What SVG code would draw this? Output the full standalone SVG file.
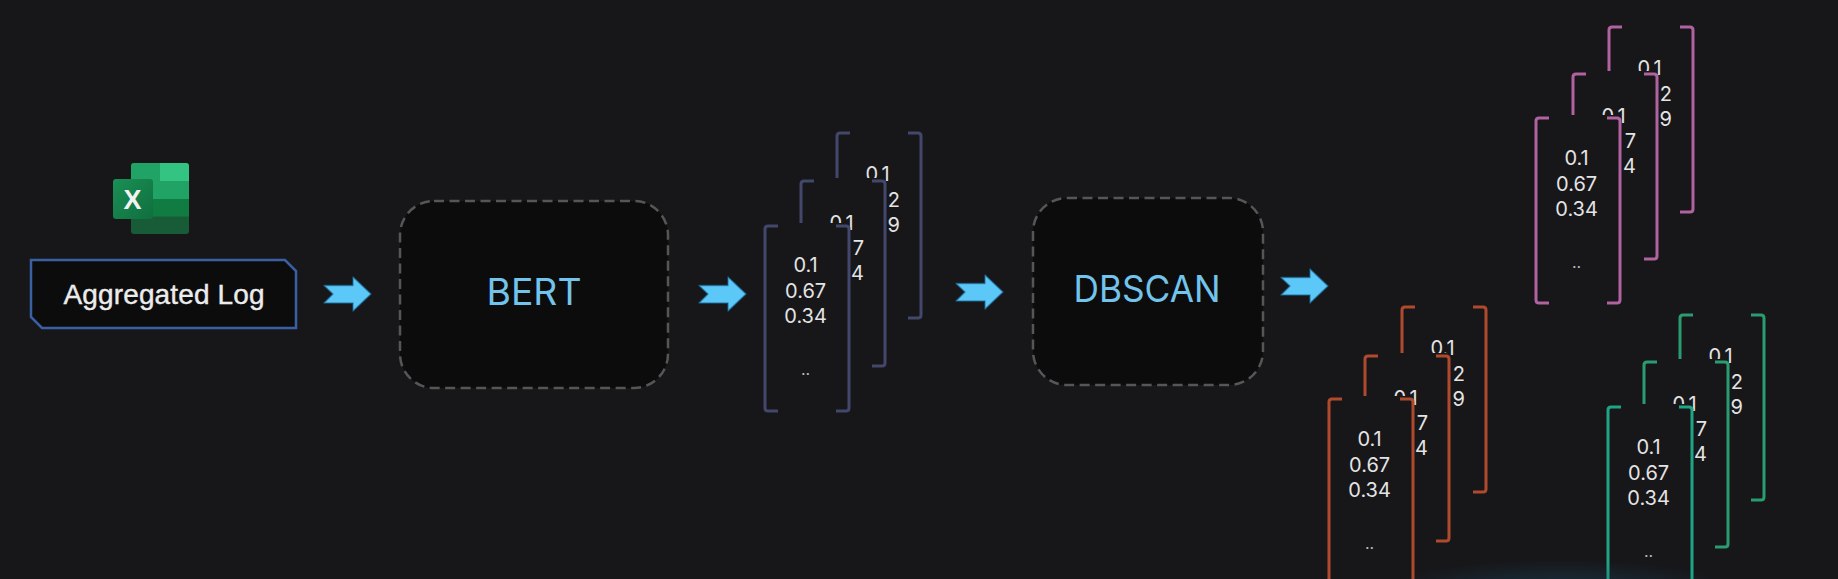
<svg xmlns="http://www.w3.org/2000/svg" width="1838" height="579" viewBox="0 0 1838 579">
<style>
.bg{fill:#17171a}
.num{font-family:"Inter","Liberation Sans",sans-serif;font-size:20px;fill:#e4e4e4;text-anchor:middle}
.end{text-anchor:end}
.dots{font-size:16px;fill:#bdbdbd}
.brk{fill:none;stroke:currentColor;stroke-width:3;stroke-linejoin:round}
.box{fill:#0c0c0d;stroke:#565656;stroke-width:2.5;stroke-dasharray:10 5.5}
.title{font-family:"Inter","Liberation Sans",sans-serif;font-size:37px;fill:#72c4ec;text-anchor:middle}
.arrow{fill:#5cc8f8;stroke:#1a6c9c;stroke-opacity:.6;stroke-width:1.5;stroke-linejoin:round}
.slate{color:#42476b}.pink{color:#b0639f}.rust{color:#af4a2d}.green{color:#2a9c70}.teal{color:#1fa584}
</style>
<defs>
<g id="frame">
<rect class="bg" x="0" y="-3" width="82" height="192"/>
<path class="brk" d="M13,0H3Q0,0 0,3V182Q0,185 3,185H13"/>
<path class="brk" d="M71,0H81Q84,0 84,3V182Q84,185 81,185H71"/>
</g>
<path id="arr" d="M0,-8.5H29V-17L47,0L29,17V9H0L9,0Z"/>
<radialGradient id="glow"><stop offset="0" stop-color="#1d5878" stop-opacity=".4"/><stop offset="1" stop-color="#1d5878" stop-opacity="0"/></radialGradient>
<linearGradient id="tile" x1="0" y1="0" x2="1" y2="1"><stop offset="0" stop-color="#1a8f55"/><stop offset="1" stop-color="#0f6f3f"/></linearGradient>
</defs>
<rect class="bg" width="1838" height="579"/>

<g id="excel-icon">
<rect x="131" y="163" width="58" height="71" rx="3" fill="#185c37"/>
<path d="M131,166Q131,163 134,163H160V181H131Z" fill="#21a366"/>
<path d="M160,163H186Q189,163 189,166V181H160Z" fill="#33c481"/>
<rect x="131" y="181" width="58" height="18" fill="#21a366"/>
<rect x="131" y="199" width="58" height="17.500" fill="#107c41"/>
<rect x="113" y="179" width="40" height="40" rx="3" fill="url(#tile)"/>
<text x="132.500" y="209" font-family="'Liberation Sans',sans-serif" font-size="27" font-weight="700" fill="#f2f2f2" text-anchor="middle">X</text>
</g>

<g id="aggregated-log">
<path d="M31,260H285L296,271V328H42L31,317Z" fill="#0c0c0d" stroke="#3a5fa5" stroke-width="2.500"/>
<text x="164" y="304" font-family="'Liberation Sans',sans-serif" font-size="28" fill="#ececec" stroke="#ececec" stroke-width=".4" text-anchor="middle" textLength="201">Aggregated Log</text>
</g>

<g id="bert"><rect class="box" x="400" y="201" width="268" height="187" rx="34"/><text class="title" x="534" y="305" textLength="95" lengthAdjust="spacingAndGlyphs">BERT</text></g>
<g id="dbscan"><rect class="box" x="1033" y="198" width="230" height="187" rx="34"/><text class="title" x="1147" y="302" textLength="147" lengthAdjust="spacingAndGlyphs">DBSCAN</text></g>

<g id="connectors">
<use href="#arr" class="arrow" x="324" y="294"/>
<use href="#arr" class="arrow" x="699" y="294"/>
<use href="#arr" class="arrow" x="956" y="292"/>
<use href="#arr" class="arrow" x="1281" y="286"/>
</g>

<g id="stack-input" class="slate">
<g transform="translate(837,133)"><use href="#frame"/><text class="num" x="40.600" y="48">0.1</text><text class="num end" x="63" y="74">2</text><text class="num end" x="63" y="99">9</text></g>
<g transform="translate(801,181)"><use href="#frame"/><text class="num" x="40.600" y="49">0.1</text><text class="num end" x="63" y="74">7</text><text class="num end" x="63" y="99">4</text></g>
<g transform="translate(765,226)"><use href="#frame"/><text class="num" x="40.600" y="46">0.1</text><text class="num" x="40.600" y="72">0.67</text><text class="num" x="40.600" y="97">0.34</text><text class="num dots" x="40.600" y="149">..</text></g>
</g>

<g id="stack-pink" class="pink">
<g transform="translate(1609,27)"><use href="#frame"/><text class="num" x="40.600" y="48">0.1</text><text class="num end" x="63" y="74">2</text><text class="num end" x="63" y="99">9</text></g>
<g transform="translate(1573,74)"><use href="#frame"/><text class="num" x="40.600" y="49">0.1</text><text class="num end" x="63" y="74">7</text><text class="num end" x="63" y="99">4</text></g>
<g transform="translate(1536,118)"><use href="#frame"/><text class="num" x="40.600" y="47">0.1</text><text class="num" x="40.600" y="73">0.67</text><text class="num" x="40.600" y="98">0.34</text><text class="num dots" x="40.600" y="150">..</text></g>
</g>

<g id="stack-rust" class="rust">
<g transform="translate(1402,307)"><use href="#frame"/><text class="num" x="40.600" y="48">0.1</text><text class="num end" x="63" y="74">2</text><text class="num end" x="63" y="99">9</text></g>
<g transform="translate(1365,356)"><use href="#frame"/><text class="num" x="40.600" y="49">0.1</text><text class="num end" x="63" y="74">7</text><text class="num end" x="63" y="99">4</text></g>
<g transform="translate(1329,399)"><use href="#frame"/><text class="num" x="40.600" y="47">0.1</text><text class="num" x="40.600" y="73">0.67</text><text class="num" x="40.600" y="98">0.34</text><text class="num dots" x="40.600" y="150">..</text></g>
</g>

<g id="stack-green" class="green">
<g transform="translate(1680,315)"><use href="#frame"/><text class="num" x="40.600" y="48">0.1</text><text class="num end" x="63" y="74">2</text><text class="num end" x="63" y="99">9</text></g>
<g transform="translate(1644,362)"><use href="#frame"/><text class="num" x="40.600" y="49">0.1</text><text class="num end" x="63" y="74">7</text><text class="num end" x="63" y="99">4</text></g>
<g transform="translate(1608,407)" class="teal"><use href="#frame"/><text class="num" x="40.600" y="47">0.1</text><text class="num" x="40.600" y="73">0.67</text><text class="num" x="40.600" y="98">0.34</text><text class="num dots" x="40.600" y="150">..</text></g>
</g>

<ellipse cx="1560" cy="590" rx="170" ry="30" fill="url(#glow)"/>
</svg>
